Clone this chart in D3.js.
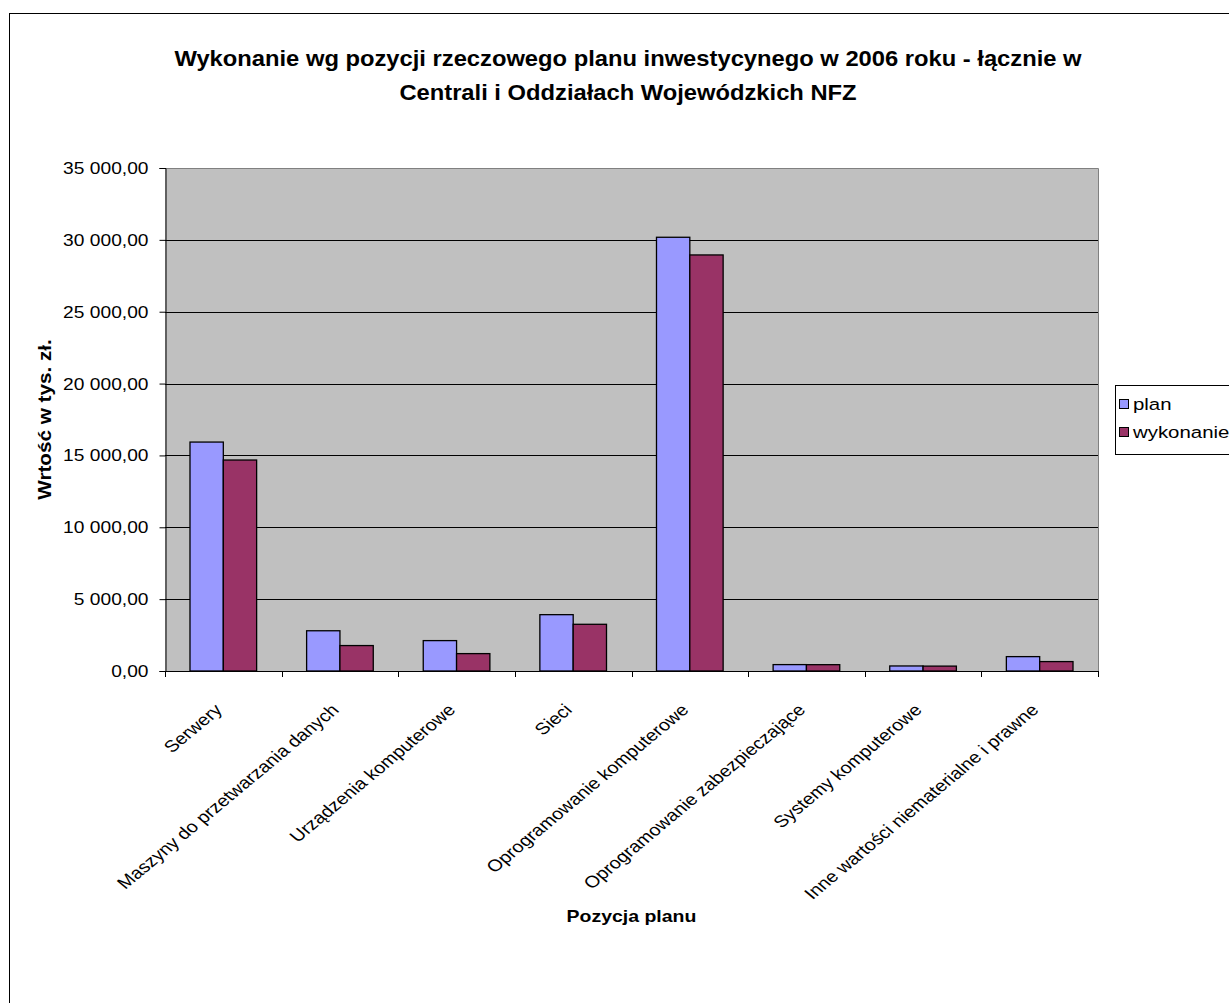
<!DOCTYPE html>
<html>
<head>
<meta charset="utf-8">
<script src="https://cdn.jsdelivr.net/npm/d3@7"></script>
<style>
  body { margin: 0; background: #fff; }
  svg { display: block; font-family: "Liberation Sans", Arial, sans-serif; }
</style>
</head>
<body>
<svg id="chart" width="1229" height="1003"></svg>
<script>
// Investment plan items (thousand PLN), 2006
const categories = [
  "Serwery",
  "Maszyny do przetwarzania danych",
  "Urządzenia komputerowe",
  "Sieci",
  "Oprogramowanie komputerowe",
  "Oprogramowanie zabezpieczające",
  "Systemy  komputerowe",
  "Inne wartości niematerialne i prawne"
];
const seriesNames = ["plan", "wykonanie"];
const planValues = [15930, 2800, 2115, 3920, 30180, 445, 350, 1000];
const wykonanieValues = [14680, 1770, 1210, 3250, 28950, 440, 340, 655];
const yTicks = [0, 5000, 10000, 15000, 20000, 25000, 30000, 35000];
const seriesColors = ["#9999FF", "#993366"];

const svg = d3.select("#chart");
const margin = { left: 165, right: 1098, top: 168, bottom: 671 };
const WIDE = 1.13; // glyphs are drawn slightly wider than the base font

// outer chart frame
svg.append("rect")
  .attr("x", 9.5).attr("y", 13.5)
  .attr("width", 1240).attr("height", 1010)
  .attr("fill", "#fff").attr("stroke", "#000").attr("stroke-width", 1);

const x0 = d3.scaleBand()
  .domain(categories)
  .range([margin.left, margin.right])
  .paddingInner(0).paddingOuter(0);

const groupFrac = 2 / 3.5; // two bars plus 150% gap
const x1 = d3.scaleBand()
  .domain(seriesNames)
  .range([0, x0.bandwidth() * groupFrac]);

const y = d3.scaleLinear()
  .domain([0, 35000])
  .range([margin.bottom, margin.top]);

// plot background
svg.append("rect")
  .attr("x", margin.left).attr("y", margin.top)
  .attr("width", margin.right - margin.left)
  .attr("height", margin.bottom - margin.top)
  .attr("fill", "#C0C0C0");

// gridlines
svg.append("g")
  .selectAll("line")
  .data(yTicks.filter(d => d > 0 && d < 35000))
  .join("line")
  .attr("x1", margin.left).attr("x2", margin.right)
  .attr("y1", d => Math.round(y(d)) + 0.5).attr("y2", d => Math.round(y(d)) + 0.5)
  .attr("stroke", "#000").attr("stroke-width", 1);

// plot border top/right
svg.append("path")
  .attr("d", `M${margin.left},${margin.top + 0.5}H${margin.right + 0.5}V${margin.bottom}`)
  .attr("fill", "none").attr("stroke", "#808080").attr("stroke-width", 1);

// bars
const data = categories.map((c, i) => ({
  cat: c,
  vals: [
    { s: "plan", v: planValues[i] },
    { s: "wykonanie", v: wykonanieValues[i] }
  ]
}));

const offset = (x0.bandwidth() - x0.bandwidth() * groupFrac) / 2;
svg.append("g")
  .selectAll("g")
  .data(data)
  .join("g")
  .attr("transform", d => `translate(${x0(d.cat) + offset},0)`)
  .selectAll("rect")
  .data(d => d.vals)
  .join("rect")
  .attr("x", d => x1(d.s))
  .attr("y", d => y(d.v))
  .attr("width", x1.bandwidth())
  .attr("height", d => y(0) - y(d.v))
  .attr("fill", (d, i) => seriesColors[i])
  .attr("stroke", "#000")
  .attr("stroke-width", 1.3);

// y axis
const yAxis = d3.axisLeft(y)
  .tickValues(yTicks)
  .tickSize(6)
  .tickPadding(10)
  .tickFormat(d => d3.format(",.2f")(d).replace(/,/g, " ").replace(".", ","));
const gy = svg.append("g")
  .attr("transform", `translate(${margin.left + 0.5},0)`)
  .call(yAxis);
gy.select(".domain").attr("stroke", "#000");
gy.selectAll(".tick line").attr("stroke", "#000");
gy.selectAll(".tick text")
  .attr("x", 0)
  .attr("transform", `translate(-17,0) scale(${WIDE},1)`)
  .attr("font-size", 17).attr("fill", "#000")
  .attr("font-family", "Liberation Sans, Arial, sans-serif");

// x axis: ticks on category boundaries
const xBoundaries = categories.map(c => x0(c)).concat([margin.right]);
const gx = svg.append("g");
gx.append("line")
  .attr("x1", margin.left).attr("x2", margin.right)
  .attr("y1", margin.bottom + 0.5).attr("y2", margin.bottom + 0.5)
  .attr("stroke", "#000");
gx.selectAll("line.tk")
  .data(xBoundaries)
  .join("line")
  .attr("class", "tk")
  .attr("x1", d => Math.round(d) + 0.5).attr("x2", d => Math.round(d) + 0.5)
  .attr("y1", margin.bottom).attr("y2", margin.bottom + 6)
  .attr("stroke", "#000");

// rotated category labels (stretched horizontally like the rest of the text)
gx.selectAll("text")
  .data(categories)
  .join("text")
  .attr("transform", d => `translate(${x0(d) + x0.bandwidth() / 2},${margin.bottom + 40}) scale(1.2,1) rotate(-45)`)
  .attr("text-anchor", "end")
  .attr("font-size", 16.5)
  .attr("fill", "#000")
  .text(d => d);

// title
const titleLines = [
  "Wykonanie wg pozycji rzeczowego planu inwestycynego w 2006 roku - łącznie w",
  "Centrali i Oddziałach Wojewódzkich NFZ"
];
svg.append("g")
  .selectAll("text")
  .data(titleLines)
  .join("text")
  .attr("transform", (d, i) => `translate(628,${66 + i * 34}) scale(1.08,1)`)
  .attr("text-anchor", "middle")
  .attr("font-size", 22)
  .attr("font-weight", "bold")
  .attr("fill", "#000")
  .text(d => d);

// axis titles
svg.append("text")
  .attr("transform", `translate(51,${(margin.top + margin.bottom) / 2}) rotate(-90) scale(1.15,1)`)
  .attr("text-anchor", "middle")
  .attr("font-size", 18)
  .attr("font-weight", "bold")
  .attr("fill", "#000")
  .text("Wrtość w tys. zł.");

svg.append("text")
  .attr("transform", `translate(${(margin.left + margin.right) / 2},922) scale(1.145,1)`)
  .attr("text-anchor", "middle")
  .attr("font-size", 17)
  .attr("font-weight", "bold")
  .attr("fill", "#000")
  .text("Pozycja planu");

// legend
const legend = svg.append("g");
legend.append("rect")
  .attr("x", 1115.5).attr("y", 385.5)
  .attr("width", 140).attr("height", 69)
  .attr("fill", "#fff").attr("stroke", "#000");
const li = legend.selectAll("g.item")
  .data(seriesNames)
  .join("g")
  .attr("class", "item")
  .attr("transform", (d, i) => `translate(1119,${399 + i * 28})`);
li.append("rect")
  .attr("x", 0.5).attr("y", 0.5)
  .attr("width", 9).attr("height", 9)
  .attr("fill", (d, i) => seriesColors[i])
  .attr("stroke", "#000");
li.append("text")
  .attr("transform", `translate(14,11) scale(1.2,1)`)
  .attr("font-size", 17)
  .attr("fill", "#000")
  .text(d => d);
</script>
</body>
</html>
